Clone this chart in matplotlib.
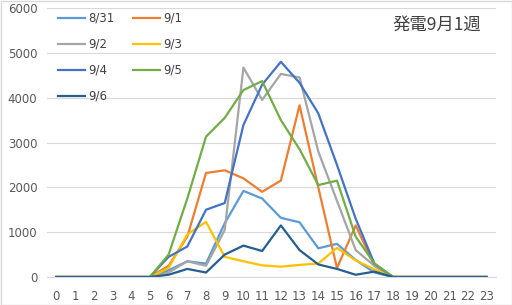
import matplotlib
matplotlib.use("Agg")
import matplotlib.pyplot as plt
from matplotlib.patches import Rectangle

hours = list(range(24))
labels = ["8/31", "9/1", "9/2", "9/3", "9/4", "9/5", "9/6"]
colors = ["#5B9BD5", "#ED7D31", "#A5A5A5", "#FFC000", "#4472C4", "#70AD47", "#255E91"]

pre = [0, 0, 0, 0, 0, 0]
post = [0, 0, 0, 0, 0]
d0831 = pre + [150, 350, 300, 1200, 1920, 1750, 1320, 1220, 640, 740, 380, 100, 0] + post
d0901 = pre + [250, 900, 2320, 2380, 2200, 1900, 2150, 3830, 2000, 200, 1150, 250, 0] + post
d0902 = pre + [100, 350, 250, 1050, 4670, 3950, 4530, 4450, 2800, 1700, 600, 250, 0] + post
d0903 = pre + [200, 950, 1230, 450, 350, 260, 230, 270, 300, 650, 370, 170, 0] + post
d0904 = pre + [450, 680, 1500, 1650, 3390, 4290, 4800, 4330, 3650, 2500, 1300, 300, 0] + post
d0905 = pre + [500, 1750, 3130, 3550, 4170, 4370, 3500, 2850, 2050, 2150, 900, 300, 0] + post
d0906 = pre + [50, 180, 100, 500, 700, 580, 1150, 600, 280, 180, 50, 120, 0] + post
series = [d0831, d0901, d0902, d0903, d0904, d0905, d0906]

fig = plt.figure(figsize=(5.12, 3.05), dpi=100)
ax = fig.add_axes([47/512, 1-277/305, 449/512, 269/305])

handles = []
for lab, col, vals in zip(labels, colors, series):
    h, = ax.plot(hours, vals, color=col, lw=1.6, label=lab)
    handles.append(h)

ax.set_xlim(-0.5, 23.5)
ax.set_ylim(0, 6000)
ax.set_yticks(range(0, 6001, 1000))
ax.set_xticks(hours)
ax.grid(axis="y", color="#D9D9D9", lw=0.8)
ax.set_axisbelow(True)
for s in ["top", "right", "left"]:
    ax.spines[s].set_visible(False)
ax.spines["bottom"].set_color("#D9D9D9")
ax.tick_params(length=0, labelsize=8.5, colors="#595959")
ax.tick_params(axis="x", pad=9)
ax.tick_params(axis="y", pad=7)

order = [0, 2, 4, 6, 1, 3, 5]
leg = fig.legend([handles[i] for i in order], [labels[i] for i in order],
                 ncol=2, loc="upper left", bbox_to_anchor=(52/512, 1-6/305),
                 frameon=False, fontsize=8.5, handlelength=2.3, handletextpad=0.3,
                 labelspacing=1.1, columnspacing=1.5, borderpad=0)
for t in leg.get_texts():
    t.set_color("#404040")

fig.text(437/512, 1-25/305, "発電9月1週", ha="center", va="center", fontsize=12.5,
         color="#404040", family=["Noto Sans CJK JP", "DejaVu Sans"])

fig.patches.append(Rectangle((0.5/512, 0.5/305), 1-1/512, 1-1/305, transform=fig.transFigure,
                             fill=False, edgecolor="#D9D9D9", lw=1))

fig.savefig("out.png", dpi=100)
